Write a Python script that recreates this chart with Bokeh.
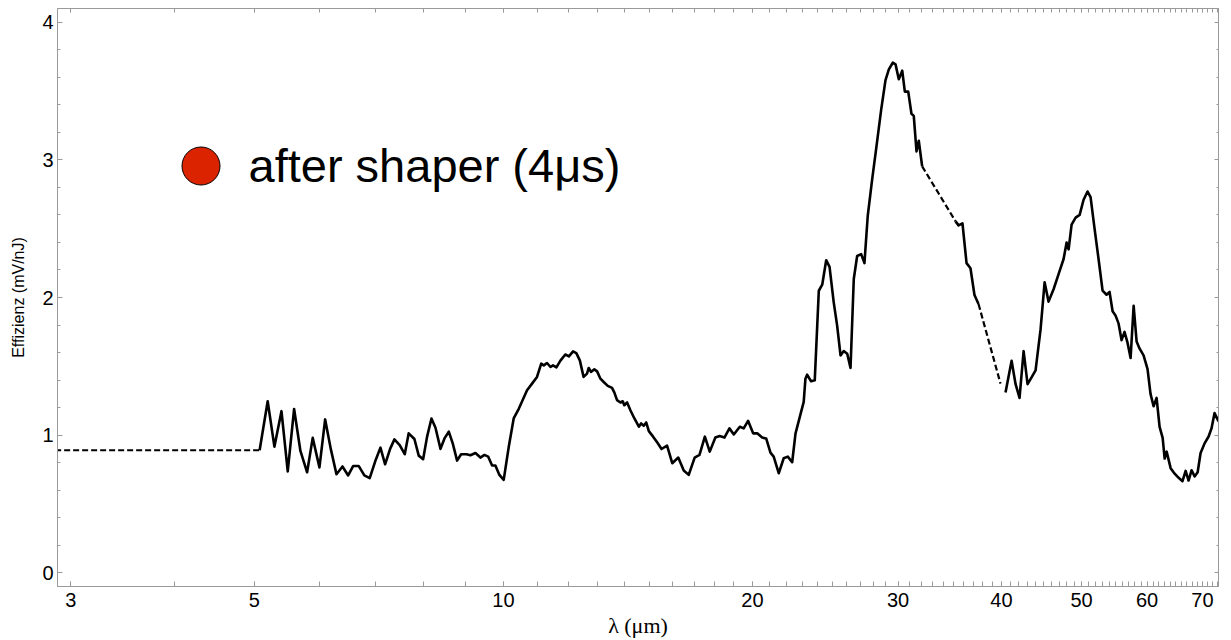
from bokeh.plotting import figure
from bokeh.models import (LogAxis, LinearAxis, FixedTicker, SingleIntervalTicker, Range1d,
                          Legend, LegendItem, PrintfTickFormatter, CustomJSTickFormatter)
from bokeh.embed import file_html
from bokeh.resources import INLINE

NAN = float("nan")

# ---- measured segment 1 (wavelength in um, efficiency in mV/nJ)
wl_a = [5.073, 5.188, 5.286, 5.391, 5.486, 5.584, 5.683, 5.790, 5.881, 5.992, 6.088, 6.184,
        6.283, 6.389, 6.491, 6.583, 6.683, 6.790, 6.892, 6.997, 7.101, 7.194, 7.295, 7.383,
        7.492, 7.598, 7.682, 7.805, 7.900, 7.997, 8.086, 8.185, 8.277, 8.393, 8.487, 8.589,
        8.684, 8.790, 8.889, 9.021, 9.122, 9.251, 9.380, 9.485, 9.583, 9.690, 9.779, 9.889,
        10.008, 10.15, 10.29, 10.44, 10.68, 10.83, 10.98, 11.11, 11.19, 11.29, 11.40, 11.48,
        11.59, 11.72, 11.88, 12.00, 12.14, 12.25, 12.37, 12.50, 12.62, 12.68, 12.76, 12.88,
        12.98, 13.10, 13.22, 13.37, 13.53, 13.62, 13.72, 13.85, 13.94, 14.00, 14.11, 14.24,
        14.40, 14.58, 14.67, 14.78, 14.88, 14.99, 15.17, 15.34, 15.53, 15.77, 16.00, 16.27,
        16.52, 16.75, 17.03, 17.26, 17.52, 17.76, 18.04, 18.26, 18.50, 18.76, 18.99, 19.31,
        19.52, 19.76, 20.04, 20.27, 20.55, 20.78, 21.03, 21.22, 21.52, 21.82, 22.07, 22.34,
        22.55, 23.07, 23.18, 23.29, 23.55, 23.79, 24.06, 24.29, 24.56, 24.79, 25.08, 25.32,
        25.56, 25.79, 26.04, 26.28, 26.52, 26.77, 27.07, 27.32, 27.57, 27.91, 28.25, 28.62,
        28.97, 29.24, 29.56, 29.79, 30.06, 30.35, 30.57, 30.86, 31.14, 31.34, 31.58, 31.78,
        32.08]
eff_a = [0.890, 1.246, 0.916, 1.174, 0.736, 1.190, 0.885, 0.730, 0.980, 0.765, 1.114, 0.900,
         0.716, 0.772, 0.707, 0.776, 0.776, 0.707, 0.687, 0.808, 0.909, 0.788, 0.900, 0.969,
         0.928, 0.861, 1.013, 0.972, 0.851, 0.825, 0.989, 1.121, 1.054, 0.900, 0.976, 1.025,
         0.940, 0.815, 0.861, 0.861, 0.854, 0.870, 0.837, 0.856, 0.844, 0.779, 0.779, 0.711,
         0.675, 0.916, 1.121, 1.193, 1.326, 1.374, 1.423, 1.519, 1.507, 1.524, 1.495, 1.507,
         1.492, 1.541, 1.586, 1.572, 1.608, 1.596, 1.543, 1.423, 1.447, 1.488, 1.459, 1.478,
         1.463, 1.410, 1.386, 1.358, 1.343, 1.309, 1.254, 1.237, 1.246, 1.217, 1.237, 1.181,
         1.121, 1.061, 1.085, 1.068, 1.092, 1.029, 0.989, 0.948, 0.899, 0.924, 0.796, 0.837,
         0.743, 0.711, 0.837, 0.856, 0.989, 0.880, 0.982, 0.993, 0.982, 1.049, 1.005, 1.061,
         1.049, 1.104, 1.013, 1.013, 0.982, 0.976, 0.873, 0.844, 0.723, 0.832, 0.844, 0.803,
         1.013, 1.242, 1.410, 1.439, 1.391, 1.398, 2.049, 2.093, 2.271, 2.223, 1.965, 1.796,
         1.579, 1.611, 1.591, 1.488, 2.134, 2.302, 2.315, 2.250, 2.592, 2.857, 3.098, 3.363,
         3.580, 3.658, 3.706, 3.694, 3.586, 3.648, 3.496, 3.496, 3.335, 3.320, 3.062, 3.139,
         2.953]

# ---- measured segment 2
wl_b = [35.21, 35.50, 35.89, 36.30, 36.70, 37.11, 37.53]
eff_b = [2.553, 2.524, 2.539, 2.250, 2.213, 2.018, 1.953]

# ---- measured segment 3
wl_c = [40.46, 41.15, 41.61, 42.07, 42.55, 43.02, 43.50, 43.99, 44.61, 45.11, 45.61, 46.25,
        46.90, 47.56, 47.96, 48.23, 48.63, 49.18, 49.73, 50.28, 50.84, 51.27, 51.84, 52.42,
        53.01, 53.60, 54.05, 54.51, 54.95, 55.43, 55.89, 56.35, 56.83, 57.31, 57.80, 58.28,
        58.75, 59.42, 60.08, 60.58, 61.10, 61.61, 62.13, 62.66, 63.01, 63.36, 64.07, 64.79,
        65.51, 66.22, 66.80, 67.35, 67.92, 68.49, 69.07, 69.64, 70.42, 71.21, 71.80, 72.40,
        73.21]
eff_c = [1.31, 1.54, 1.37, 1.27, 1.61, 1.37, 1.42, 1.47, 1.77, 2.11, 1.97, 2.06,
         2.17, 2.28, 2.40, 2.35, 2.53, 2.58, 2.60, 2.71, 2.77, 2.73, 2.50, 2.28,
         2.05, 2.02, 2.04, 1.90, 1.87, 1.81, 1.69, 1.75, 1.67, 1.56, 1.94, 1.68,
         1.63, 1.58, 1.48, 1.30, 1.21, 1.27, 1.06, 0.98, 0.83, 0.88, 0.76, 0.72,
         0.69, 0.665, 0.74, 0.67, 0.745, 0.70, 0.73, 0.87, 0.94, 0.99, 1.05, 1.16,
         1.10]

# ---- dashed (extrapolated / interpolated) parts
gap_wl = [[2.80, 5.073], [32.08, 35.21], [37.53, 39.90]]
gap_eff = [[0.890, 0.890], [2.953, 2.553], [1.953, 1.374]]

# ---- axis ticks
x_major = [3, 5, 10, 20, 30, 40, 50, 60, 70]
x_minor = list(range(3, 74))
legend_label = "after shaper (4μs)"

solid_x = wl_a + [NAN] + wl_b + [NAN] + wl_c
solid_y = eff_a + [NAN] + eff_b + [NAN] + eff_c
dash_x, dash_y = [], []
for gx, gy in zip(gap_wl, gap_eff):
    dash_x += gx + [NAN]
    dash_y += gy + [NAN]

GRAY = "#9a9a9a"
p = figure(width=1231, height=640, x_axis_type="log",
           x_range=Range1d(2.89, 73.2), y_range=Range1d(-0.1, 4.1),
           output_backend="svg", toolbar_location=None,
           min_border_left=57, min_border_right=13, min_border_top=8, min_border_bottom=51)
p.grid.visible = False
p.outline_line_color = GRAY
p.background_fill_color = "white"

p.line(solid_x, solid_y, line_color="black", line_width=2.6, line_join="round")
p.line(dash_x, dash_y, line_color="black", line_width=2.2, line_dash="6 3")

xt = FixedTicker(ticks=x_major, minor_ticks=x_minor)
yt = SingleIntervalTicker(interval=1, num_minor_ticks=5)

def style(ax, major_in, minor_in):
    ax.axis_line_color = GRAY
    ax.major_tick_line_color = GRAY
    ax.minor_tick_line_color = GRAY
    ax.major_tick_out = 0
    ax.minor_tick_out = 0
    ax.major_tick_in = major_in
    ax.minor_tick_in = minor_in
    ax.major_label_text_font = "Liberation Sans"
    ax.major_label_text_font_size = "20px"
    ax.major_label_text_color = "black"
    ax.axis_label_text_color = "black"

xb = p.xaxis[0]
xb.ticker = xt
xb.formatter = PrintfTickFormatter(format="%d")
style(xb, 5, 5)
xb.major_label_standoff = 6
xb.axis_label = "λ (μm)"
xb.axis_label_text_font = "Liberation Serif"
xb.axis_label_text_font_style = "normal"
xb.axis_label_text_font_size = "22px"
xb.axis_label_standoff = 3

yl = p.yaxis[0]
yl.ticker = yt
style(yl, 5, 3)
yl.major_label_standoff = 4
yl.axis_label = "Effizienz (mV/nJ)"
yl.axis_label_text_font = "Liberation Sans"
yl.axis_label_text_font_style = "normal"
yl.axis_label_text_font_size = "16px"
yl.axis_label_standoff = 12

blank = CustomJSTickFormatter(code="return ''")
xtop = LogAxis(ticker=xt, formatter=blank)
style(xtop, 4, 4)
xtop.major_label_text_font_size = "0px"
xtop.major_label_standoff = 0
p.add_layout(xtop, "above")

yr = LinearAxis(ticker=yt, formatter=blank)
style(yr, 4, 2)
yr.major_label_text_font_size = "0px"
yr.major_label_standoff = 0
p.add_layout(yr, "right")

r = p.scatter(x=[NAN], y=[NAN], size=38, fill_color="#DC2300", line_color="black", line_width=1)
legend = Legend(items=[LegendItem(label=legend_label, renderers=[r])],
                location=(95.5, 373), glyph_width=95, glyph_height=95, label_standoff=1,
                padding=0, margin=0, border_line_color=None, background_fill_alpha=0,
                label_text_font="Liberation Sans", label_text_font_size="47px",
                label_text_color="black")
p.add_layout(legend)

open("out.html", "w").write(file_html(p, INLINE))
